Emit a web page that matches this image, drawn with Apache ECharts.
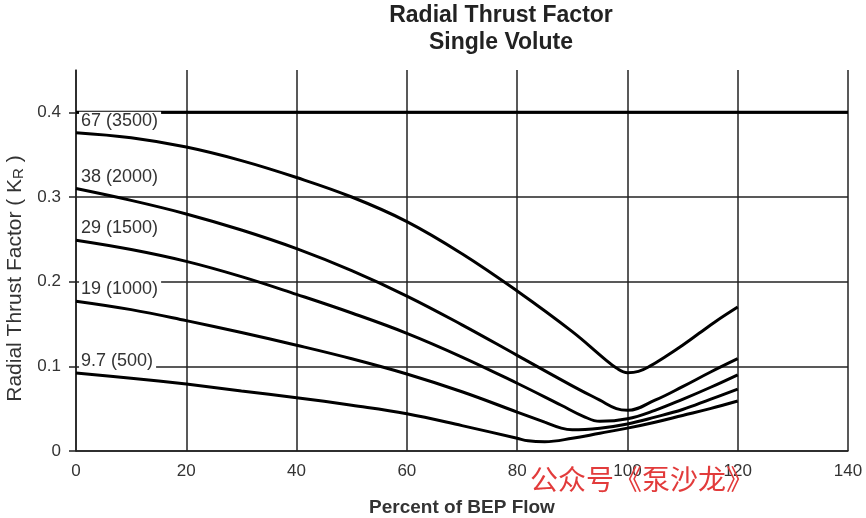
<!DOCTYPE html>
<html>
<head>
<meta charset="utf-8">
<script src="https://cdn.jsdelivr.net/npm/echarts@6/dist/echarts.min.js"></script>
<style>
html, body { margin: 0; padding: 0; background: #fff; }
#main { width: 866px; height: 518px; }
</style>
</head>
<body>
<div id="main"></div>
<script>
// curve names (shown at the left end of each curve)
var curveNames = ['67 (3500)', '38 (2000)', '29 (1500)', '19 (1000)', '9.7 (500)'];

// percent of BEP flow / radial thrust factor
var flow67 = [0, 10, 20, 30, 40, 50, 60, 70, 80, 90, 96, 98, 100, 102, 104, 107, 110, 113, 116, 120];
var kr67   = [0.376, 0.370, 0.359, 0.343, 0.323, 0.300, 0.271, 0.233, 0.189, 0.141, 0.108, 0.098, 0.0925, 0.094, 0.100, 0.112, 0.125, 0.139, 0.153, 0.170];

var flow38 = [0, 10, 20, 30, 40, 50, 60, 70, 80, 90, 95, 98, 100, 105, 110, 115, 120];
var kr38   = [0.310, 0.296, 0.280, 0.261, 0.239, 0.213, 0.183, 0.149, 0.113, 0.077, 0.060, 0.050, 0.048, 0.060, 0.076, 0.093, 0.109];

var flow29 = [0, 10, 20, 30, 40, 50, 60, 70, 80, 88, 92, 95, 100, 105, 110, 115, 120];
var kr29   = [0.249, 0.238, 0.224, 0.206, 0.185, 0.163, 0.139, 0.111, 0.080, 0.054, 0.041, 0.035, 0.038, 0.048, 0.061, 0.075, 0.090];

var flow19 = [0, 10, 20, 30, 40, 50, 60, 70, 80, 85, 88, 90, 95, 100, 105, 110, 115, 120];
var kr19   = [0.177, 0.167, 0.154, 0.140, 0.125, 0.109, 0.091, 0.070, 0.046, 0.034, 0.027, 0.025, 0.027, 0.032, 0.040, 0.049, 0.061, 0.073];

var flow97 = [0, 10, 20, 30, 40, 50, 60, 70, 80, 82, 85, 90, 95, 100, 105, 110, 115, 120];
var kr97   = [0.092, 0.086, 0.079, 0.071, 0.063, 0.054, 0.044, 0.030, 0.015, 0.012, 0.011, 0.015, 0.021, 0.027, 0.034, 0.042, 0.050, 0.059];

var xTicks = [0, 20, 40, 60, 80, 100, 120, 140];
var yTicks = [0, 0.1, 0.2, 0.3, 0.4];
var refLevel = 0.4;

var FONT = '"Liberation Sans", Arial, sans-serif';

function makeCurve(name, xs, ys) {
	var data = xs.map(function (x, i) { return [x, ys[i]]; });
	// the name is hung on the first point
	data[0] = {
		value: data[0],
		symbol: 'circle',
		symbolSize: 0.1,
		label: {
			show: true,
			position: 'right',
			offset: [-2, -12],
			formatter: name,
			color: '#333',
			fontSize: 18,
			fontFamily: FONT,
			backgroundColor: '#fff',
			padding: [0, 3, 0, 2]
		}
	};
	return {
		name: name,
		type: 'line',
		z: 3,
		smooth: 0.4,
		smoothMonotone: 'none',
		symbol: 'none',
		showSymbol: true,
		silent: true,
		lineStyle: { color: '#000', width: 3 },
		data: data
	};
}

var myChart = echarts.init(document.getElementById('main'));
var option = {
	animation: false,
	backgroundColor: '#fff',
	title: {
		text: 'Radial Thrust Factor\nSingle Volute',
		left: 496,
		top: -3,
		textAlign: 'center',
		textStyle: { fontFamily: FONT, fontSize: 23, fontWeight: 'bold', color: '#222', lineHeight: 27 }
	},
	grid: { left: 76, right: 18, top: 70, bottom: 67, outerBoundsMode: 'none' },
	xAxis: {
		type: 'value',
		min: 0,
		max: 140,
		interval: 20,
		name: 'Percent of BEP Flow',
		nameLocation: 'middle',
		nameGap: 47,
		nameTextStyle: { fontFamily: FONT, fontSize: 19, fontWeight: 'bold', color: '#333' },
		axisLine: { lineStyle: { color: '#222', width: 1.5 } },
		axisTick: { show: false },
		axisLabel: { margin: 12, fontFamily: FONT, fontSize: 17, color: '#333', customValues: xTicks },
		splitLine: { show: true, lineStyle: { color: '#222', width: 1.5 } }
	},
	yAxis: {
		type: 'value',
		min: 0,
		max: 0.45,
		interval: 0.1,
		name: 'Radial Thrust Factor ( K{s|R} )',
		nameLocation: 'middle',
		nameGap: 50,
		nameTextStyle: {
			fontFamily: FONT, fontSize: 21, color: '#333',
			padding: [0, 36, 0, 0],
			rich: { s: { fontFamily: FONT, fontSize: 15, color: '#333', verticalAlign: 'bottom', padding: [7, 0, 0, 0] } }
		},
		axisLine: { show: true, lineStyle: { color: '#222', width: 1.5 } },
		axisTick: { show: true, length: 7, lineStyle: { color: '#222', width: 1.5 }, customValues: yTicks },
		axisLabel: { margin: 15, fontFamily: FONT, fontSize: 17, color: '#333', customValues: yTicks },
		splitLine: { show: true, lineStyle: { color: '#222', width: 1.5 } }
	},
	graphic: [{
		type: 'text',
		left: 530,
		top: 465,
		z: 100,
		style: { text: '公众号《泵沙龙》', font: '28px "Noto Sans CJK SC"', fill: '#e23b3b' }
	}],
	series: [
		{
			name: 'ref',
			type: 'line',
			z: 1,
			symbol: 'none',
			silent: true,
			lineStyle: { color: '#000', width: 3 },
			data: [[0, refLevel], [140, refLevel]]
		},
		makeCurve(curveNames[0], flow67, kr67),
		makeCurve(curveNames[1], flow38, kr38),
		makeCurve(curveNames[2], flow29, kr29),
		makeCurve(curveNames[3], flow19, kr19),
		makeCurve(curveNames[4], flow97, kr97)
	]
};
myChart.setOption(option);
</script>
</body>
</html>
